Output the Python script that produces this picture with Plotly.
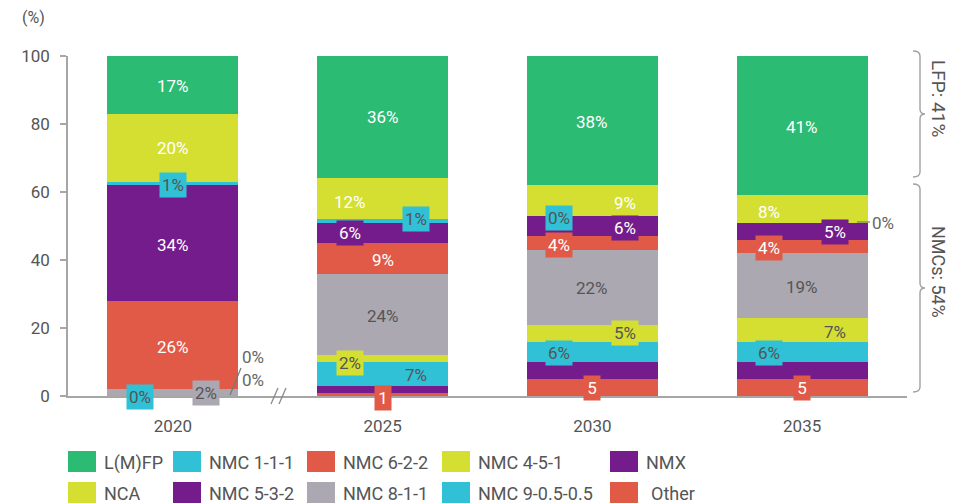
import plotly.graph_objects as go

# ---------------- data ----------------
years = ["2020", "2025", "2030", "2035"]
# stacked bottom -> top
other = [0, 1, 5, 5]
nmx = [0, 2, 5, 5]
nmc_9_05_05 = [0, 7, 6, 6]
nmc_4_5_1 = [0, 2, 5, 7]
nmc_8_1_1 = [2, 24, 22, 19]
nmc_6_2_2 = [26, 9, 4, 4]
nmc_5_3_2 = [34, 6, 6, 5]
nmc_1_1_1 = [1, 1, 0, 0]
nca = [20, 12, 9, 8]
lmfp = [17, 36, 38, 41]

series_names = ["Other", "NMX", "NMC 9-0.5-0.5", "NMC 4-5-1", "NMC 8-1-1",
                "NMC 6-2-2", "NMC 5-3-2", "NMC 1-1-1", "NCA", "L(M)FP"]
series_values = [other, nmx, nmc_9_05_05, nmc_4_5_1, nmc_8_1_1,
                 nmc_6_2_2, nmc_5_3_2, nmc_1_1_1, nca, lmfp]

legend_rows = [["L(M)FP", "NMC 1-1-1", "NMC 6-2-2", "NMC 4-5-1", "NMX"],
               ["NCA", "NMC 5-3-2", "NMC 8-1-1", "NMC 9-0.5-0.5", "Other"]]

bracket_texts = ["LFP: 41%", "NMCs: 54%"]
y_ticks = [0, 20, 40, 60, 80, 100]

# ---------------- style ----------------
GREEN, CYAN, RED, YEL, PUR, GRAY = "#2bbb73", "#30c1d6", "#e05a47", "#d4df31", "#741c8b", "#aba8b1"
colors = {"Other": RED, "NMX": PUR, "NMC 9-0.5-0.5": CYAN, "NMC 4-5-1": YEL,
          "NMC 8-1-1": GRAY, "NMC 6-2-2": RED, "NMC 5-3-2": PUR, "NMC 1-1-1": CYAN,
          "NCA": YEL, "L(M)FP": GREEN}
FONT = "Roboto, Liberation Sans, Arial, sans-serif"
DARK = "#555555"
AXC = "#a6a6a6"

W, H = 966, 503
L, R, T, B = 68, 59, 56, 107
PW, PH = W - L - R, H - T - B


def px(x):
    return (x - L) / PW


def py(y):
    return (H - B - y) / PH


fig = go.Figure()
for name, vals in zip(series_names, series_values):
    fig.add_trace(go.Bar(x=list(range(len(years))), y=vals, name=name,
                         marker_color=colors[name], marker_line_width=0, showlegend=False))

# cumulative bases
bases = {}
cum = [0] * len(years)
for name, vals in zip(series_names, series_values):
    bases[name] = list(cum)
    cum = [c + v for c, v in zip(cum, vals)]
val_of = dict(zip(series_names, series_values))

# label spec: (series, year index, horizontal pos -1/0/1, boxed, dy px, dark text)
label_spec = [
    ("L(M)FP", 0, 0, False, 1, False), ("NCA", 0, 0, False, 0, False),
    ("NMC 1-1-1", 0, 0, True, 1, True), ("NMC 5-3-2", 0, 0, False, 2, False),
    ("NMC 6-2-2", 0, 0, False, 2, False), ("NMC 8-1-1", 0, 1, True, 0, True),
    ("NMC 9-0.5-0.5", 0, -1, True, 1, True),

    ("L(M)FP", 1, 0, False, 0, False), ("NCA", 1, -1, False, 3, False),
    ("NMC 1-1-1", 1, 1, True, -2, True), ("NMC 5-3-2", 1, -1, True, 0, False),
    ("NMC 6-2-2", 1, 0, False, 2, False), ("NMC 8-1-1", 1, 0, False, 2, True),
    ("NMC 4-5-1", 1, -1, True, 4, True), ("NMC 9-0.5-0.5", 1, 1, False, 1, True),
    ("Other", 1, 0, True, 4, False),

    ("L(M)FP", 2, 0, False, 1, False), ("NCA", 2, 1, False, 2, False),
    ("NMC 1-1-1", 2, -1, True, 2, True), ("NMC 5-3-2", 2, 1, True, 2, False),
    ("NMC 6-2-2", 2, -1, True, 2, False), ("NMC 8-1-1", 2, 0, False, 1, True),
    ("NMC 4-5-1", 2, 1, True, 0, True), ("NMC 9-0.5-0.5", 2, -1, True, 1, True),
    ("Other", 2, 0, True, 0, False),

    ("L(M)FP", 3, 0, False, 1, False), ("NCA", 3, -1, False, 3, False),
    ("NMC 5-3-2", 3, 1, True, 1, False), ("NMC 6-2-2", 3, -1, True, 2, False),
    ("NMC 8-1-1", 3, 0, False, 1, True), ("NMC 4-5-1", 3, 1, False, 2, True),
    ("NMC 9-0.5-0.5", 3, -1, True, 1, True), ("Other", 3, 0, True, 0, False),
]

ann = []
for name, i, pos, boxed, dy, dark in label_spec:
    v = val_of[name][i]
    txt = f"{v}" if name == "Other" else f"{v}%"
    y = bases[name][i] + v / 2
    a = dict(x=i, y=y, xref="x", yref="y", text=txt, showarrow=False,
             xshift=33 * pos, yshift=-dy,
             font=dict(family=FONT, size=17, color=DARK if dark else "white"))
    if boxed:
        a.update(bgcolor=colors[name], borderpad=2)
        if name == "Other":
            a.update(width=12)
    ann.append(a)

# outside zero labels
ZF = dict(family=FONT, size=17, color="#666666")
ann.append(dict(x=0, y=11.5, xref="x", yref="y", text=f"{nmc_4_5_1[0]}%", showarrow=False,
                xshift=80, font=ZF))
ann.append(dict(x=0, y=4.7, xref="x", yref="y", text=f"{nmx[0]}%", showarrow=False,
                xshift=80, font=ZF))
ann.append(dict(x=3, y=bases["NMC 1-1-1"][3], xref="x", yref="y",
                text=f"{nmc_1_1_1[3]}%", showarrow=False, xshift=81, font=ZF))

shapes = []
# leader lines
shapes.append(dict(type="line", xref="paper", yref="paper", x0=px(230), y0=py(395),
                   x1=px(241), y1=py(368), line=dict(color="#777777", width=1.2)))
shapes.append(dict(type="line", xref="paper", yref="paper", x0=px(857), y0=py(222),
                   x1=px(870), y1=py(222), line=dict(color="#777777", width=1.2)))
# axis break
for x0 in (271, 279):
    shapes.append(dict(type="line", xref="paper", yref="paper", x0=px(x0), y0=py(404),
                       x1=px(x0 + 7), y1=py(388), line=dict(color="#888888", width=1.3)))


def brace(top, bot, xl=920, xc=913, xt=925, r=5):
    m = (top + bot) / 2
    pts = [
        f"M {px(xc)},{py(top)}",
        f"Q {px(xl)},{py(top)} {px(xl)},{py(top + r)}",
        f"L {px(xl)},{py(m - r)}",
        f"Q {px(xl)},{py(m)} {px(xt)},{py(m)}",
        f"Q {px(xl)},{py(m)} {px(xl)},{py(m + r)}",
        f"L {px(xl)},{py(bot - r)}",
        f"Q {px(xl)},{py(bot)} {px(xc)},{py(bot)}",
    ]
    return dict(type="path", xref="paper", yref="paper", path=" ".join(pts),
                line=dict(color="#a0a0a0", width=1.4))


shapes.append(brace(51, 177))
shapes.append(brace(184, 392))
ann.append(dict(x=px(939), y=py(98), xref="paper", yref="paper", text=bracket_texts[0],
                textangle=90, showarrow=False, xanchor="center", yanchor="middle",
                font=dict(family=FONT, size=19, color=DARK)))
ann.append(dict(x=px(939), y=py(272), xref="paper", yref="paper", text=bracket_texts[1],
                textangle=90, showarrow=False, xanchor="center", yanchor="middle",
                font=dict(family=FONT, size=18, color=DARK)))

# y-axis unit
ann.append(dict(x=px(33), y=py(18), xref="paper", yref="paper", text="(%)", showarrow=False,
                xanchor="center", yanchor="middle",
                font=dict(family=FONT, size=16, color=DARK)))

# manual legend
col_x = [68, 173, 307, 442, 610]
row_y = [461.5, 492.5]
for r, row in enumerate(legend_rows):
    for c, name in enumerate(row):
        x0 = col_x[c]
        yc = row_y[r]
        shapes.append(dict(type="rect", xref="paper", yref="paper", x0=px(x0), x1=px(x0 + 28),
                           y0=py(yc + 10.5), y1=py(yc - 10.5), fillcolor=colors[name],
                           line=dict(width=0)))
        ann.append(dict(x=px(x0 + 34 + (5 if name == "Other" else 0)), y=py(yc + 1),
                        xref="paper", yref="paper", text=name, showarrow=False,
                        xanchor="left", yanchor="middle",
                        font=dict(family=FONT, size=18, color=DARK)))

fig.update_layout(
    width=W, height=H, margin=dict(l=L, r=R, t=T, b=B),
    barmode="stack", bargap=0.375,
    plot_bgcolor="white", paper_bgcolor="white",
    annotations=ann, shapes=shapes,
    xaxis=dict(range=[-0.5, 3.5], tickvals=list(range(len(years))), ticktext=years,
               showline=True, linecolor=AXC, linewidth=1.5,
               ticks="", showgrid=False, zeroline=False,
               tickfont=dict(family=FONT, size=17, color=DARK),
               ticklabelstandoff=14),
    yaxis=dict(range=[0, 100], tickvals=y_ticks, showline=True, linecolor=AXC, linewidth=1.5,
               ticks="outside", ticklen=6, tickcolor=AXC, tickwidth=1.5, showgrid=False,
               zeroline=False, tickfont=dict(family=FONT, size=17, color=DARK),
               ticklabelstandoff=7),
)

fig.write_html("out.html", config={"displayModeBar": False},
               post_script="document.body.style.margin='0px';")
